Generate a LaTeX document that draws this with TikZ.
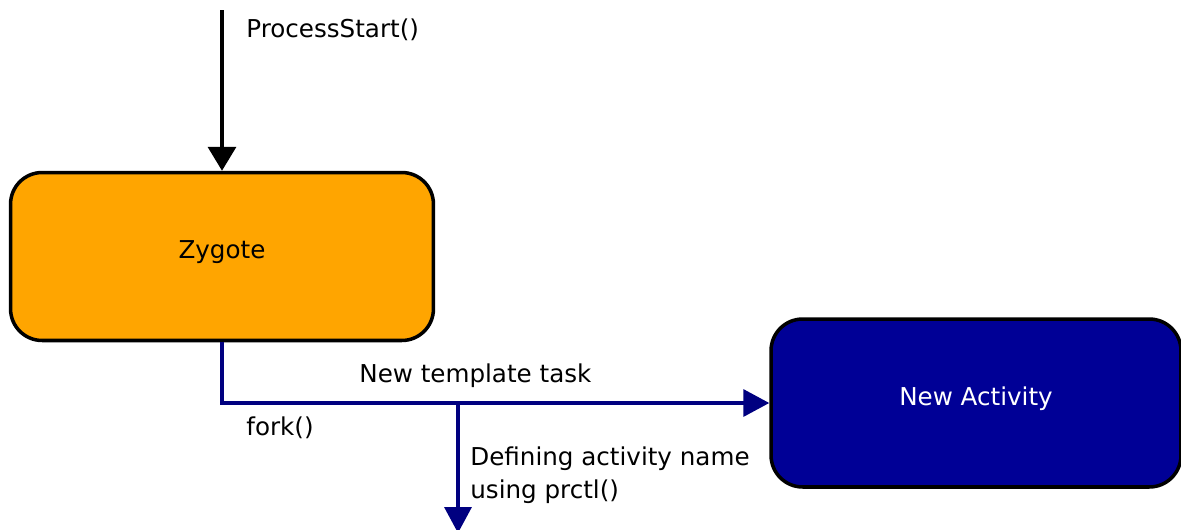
\documentclass[tikz,border=0pt]{standalone}
\usepackage{fontspec}
\setmainfont{DejaVu Sans}
\usepackage{tikz}
\usetikzlibrary{arrows.meta,positioning,calc}
\definecolor{zygorange}{RGB}{255,165,0}
\definecolor{actblue}{RGB}{0,0,150}
\definecolor{flowblue}{RGB}{0,0,128}
\tikzset{
  state/.style={rectangle, rounded corners=18pt, draw=black, line width=2pt,
    align=center, minimum width=8.46cm, minimum height=3.36cm,
    font=\fontsize{14}{16}\selectfont, inner sep=3pt},
  lbl/.style={font=\fontsize{14}{18.5}\selectfont, align=left, inner sep=0pt, anchor=west},
  entry/.style={-{Triangle[length=0.48cm, width=0.56cm]}, draw=black, line width=2pt},
  flow/.style={-{Triangle[length=0.52cm, width=0.54cm]}, draw=flowblue, line width=2pt},
}
\begin{document}
\begin{tikzpicture}[x=0.02cm, y=-0.02cm]
  \useasboundingbox (0,0) rectangle (1181,529);
  % states
  \node[state, fill=zygorange] (zygote) at (222,256.5) {\raisebox{8pt}{Zygote}};
  \node[state, fill=actblue, text=white, minimum width=8.2cm] (activity) at (976,403) {\raisebox{8pt}{New Activity}};
  % entry into the zygote
  \coordinate (top) at (222,10);
  \draw[entry] (top) -- (zygote.north);
  \node[lbl] (startlbl) at (246,30) {ProcessStart()};
  % fork branch
  \coordinate (corner) at (222,403);
  \coordinate (split) at (458,403);
  \coordinate (bottom) at (458,533);
  \draw[flow] (zygote.south) -- (corner) -- (activity.west);
  \draw[flow] (split) -- (bottom);
  \node[lbl] (tasklbl) at (359,376) {New template task};
  \node[lbl] (forklbl) at (246,428) {fork()};
  \node[lbl] (namelbl) at (470,475) {Defining activity name\\using prctl()};
\end{tikzpicture}
\end{document}
